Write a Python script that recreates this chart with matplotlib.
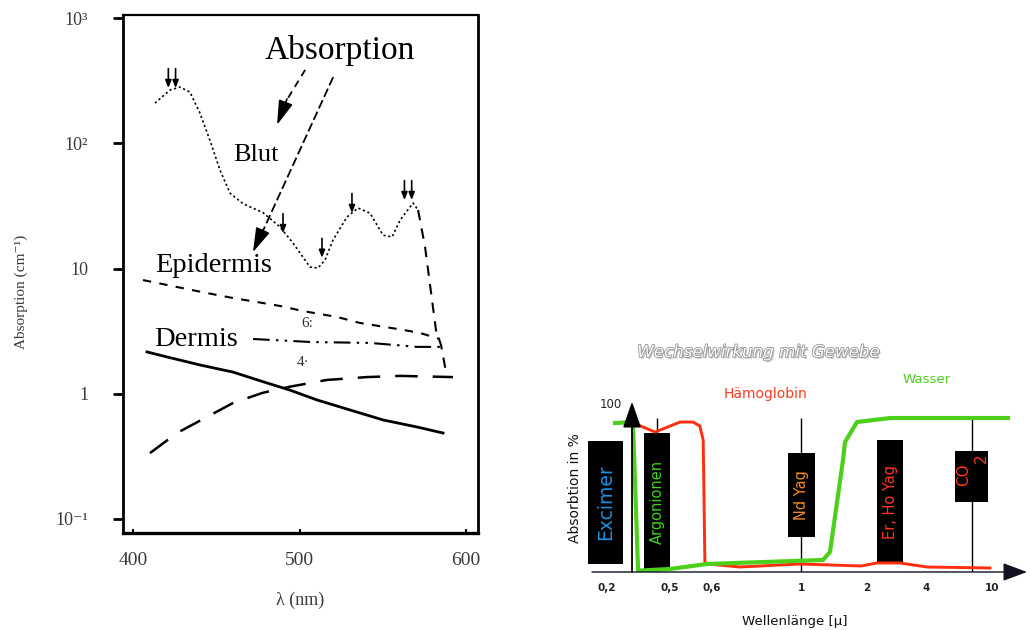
import numpy as np
import matplotlib
matplotlib.use("Agg")
import matplotlib.pyplot as plt
from matplotlib import patheffects as pe
from matplotlib.transforms import offset_copy, blended_transform_factory

# ---------------- left panel: absorption spectra of skin layers ----------------
blut_nm = [413.2, 422.2, 428.2, 434.2, 440.2, 446.2, 452.3, 458.3, 466.1, 478.1,
           488.3, 496.1, 506.3, 511.1, 515.3, 520.1, 528.5, 535.1, 542.3, 550.2,
           555.6, 560.4, 568.2, 571.2]
blut_abs = [210, 267, 282, 257, 175, 106, 61, 40, 33, 28,
            21.5, 16, 10.3, 10.1, 11.7, 16.9, 25.8, 30.5, 27.8, 18.5,
            17.9, 24.4, 33.4, 29.4]
blut_tail_nm = [571.2, 575.4, 579.6, 582.0, 585.0, 588.0]
blut_tail_abs = [29.4, 14.9, 5.6, 3.2, 2.45, 1.49]

epidermis_nm = [406.0, 432.4, 444.4, 460.1, 474.5, 488.3, 502.1, 522.5, 536.3,
                562.2, 572.4, 584.4]
epidermis_abs = [8.1, 6.87, 6.38, 5.82, 5.41, 5.03, 4.58, 4.11, 3.68, 3.24, 3.06, 2.74]

curve6_nm = [472.1, 507.5, 542.3, 570.6, 584.4]
curve6_abs = [2.74, 2.59, 2.55, 2.37, 2.37]

curve4_nm = [410.2, 426.4, 444.4, 460.1, 478.1, 494.3, 516.5, 540.5, 560.4, 592.2]
curve4_abs = [0.336, 0.486, 0.653, 0.845, 1.02, 1.14, 1.29, 1.36, 1.39, 1.36]

dermis_nm = [408.4, 420.4, 440.2, 460.1, 480.5, 494.3, 510.5, 530.3, 550.2, 570.6, 586.2]
dermis_abs = [2.16, 1.97, 1.70, 1.49, 1.22, 1.07, 0.893, 0.743, 0.618, 0.543, 0.486]

peak_single_nm = [490.1, 513.5, 531.5]
peak_single_abs = [19.2, 12.2, 27.8]
peak_double_nm = [423.4, 565.2]
peak_double_abs = [277, 35.3]

left_xticks = [400, 500, 600]
left_yticks = [0.1, 1, 10, 100, 1000]
left_ytick_labels = ["10\u207b\u00b9", "1", "10", "10\u00b2", "10\u00b3"]

# ---------------- right panel: laser / tissue interaction ----------------
tick_um = [0.2, 0.5, 0.6, 1, 2, 4, 10]
tick_labels = ["0,2", "0,5", "0,6", "1", "2", "4", "10"]

wasser_um = [0.238, 0.319, 0.324, 0.348, 0.5, 0.588, 1.333, 1.439, 1.636, 1.667,
             1.848, 2.78, 12.35]
wasser_abs = [89.2, 89.8, 88.0, 0.8, 1.8, 4.8, 7.2, 12.0, 67.0, 77.8, 89.8, 92.2, 92.2]

haemo_um = [0.338, 0.429, 0.524, 0.555, 0.571, 0.579, 0.583, 0.588, 0.726, 0.996,
            1.909, 2.339, 3.119, 4.09, 9.82]
haemo_abs = [88.6, 83.8, 89.8, 89.8, 87.4, 79.0, 6.0, 4.8, 3.0, 4.8,
             3.6, 5.4, 5.4, 3.0, 2.4]

laser_names = ["Excimer", "Argonionen", "Nd Yag", "Er, Ho Yag", "CO"]
laser_um = [0.198, 0.44, 1.0, 2.78, 8.18]
laser_low = [4.8, 1.2, 21.0, 4.8, 42.0]
laser_high = [78.4, 83.2, 71.3, 79.0, 72.5]
laser_has_line = [False, True, True, False, True]
line_top = 92.2

# ---------------- figure ----------------
fig = plt.figure(figsize=(10.3, 6.3), dpi=100)
fig.patch.set_facecolor("white")

serif = ["Liberation Serif", "DejaVu Serif"]

axL = fig.add_axes([123 / 1030, 97 / 630, 355 / 1030, 518 / 630])
axL.set_yscale("log")
axL.set_xlim(394.0, 607.2)
axL.set_ylim(10 ** -1.112, 10 ** 3.026)

axL.plot(blut_nm, blut_abs, color="black", lw=1.2, ls=(0, (1.3, 1.6)))
axL.plot(blut_tail_nm, blut_tail_abs, color="black", lw=1.5, ls=(0, (5, 4)))
axL.plot(epidermis_nm, epidermis_abs, color="black", lw=1.5, ls=(0, (4, 4)))
axL.plot(curve6_nm, curve6_abs, color="black", lw=1.5, ls=(0, (8, 3, 1.2, 3, 1.2, 3)))
axL.plot(curve4_nm, curve4_abs, color="black", lw=1.8, ls=(0, (9, 6)))
axL.plot(dermis_nm, dermis_abs, color="black", lw=2.0)

arrow_small = dict(arrowstyle="-|>,head_length=0.45,head_width=0.18", color="black",
                   lw=1.2, shrinkA=0, shrinkB=0)
for x, y in zip(peak_single_nm, peak_single_abs):
    axL.annotate("", xy=(x, y), xytext=(0, 14), textcoords="offset points",
                 arrowprops=arrow_small)
for x, y in zip(peak_double_nm, peak_double_abs):
    for dx in (-2.6, 2.6):
        tr = offset_copy(axL.transData, fig=fig, x=dx, y=0, units="points")
        axL.annotate("", xy=(x, y), xycoords=tr, xytext=(0, 14),
                     textcoords="offset points", arrowprops=arrow_small)

# "Absorption" callout with its two pointers
axL.text(0.611, 0.932, "Absorption", transform=axL.transAxes, ha="center", va="center",
         fontsize=24, family=serif)
axL.plot([0.513, 0.458], [0.894, 0.832], transform=axL.transAxes, color="black",
         lw=1.3, ls=(0, (4, 3)))
axL.annotate("", xy=(0.434, 0.788), xycoords="axes fraction", xytext=(0.462, 0.838),
             textcoords="axes fraction",
             arrowprops=dict(arrowstyle="-|>,head_length=1.5,head_width=0.45",
                             color="black", lw=1.2, shrinkA=0, shrinkB=0))
axL.plot([0.592, 0.388], [0.880, 0.574], transform=axL.transAxes, color="black",
         lw=1.3, ls=(0, (5, 2)))
axL.annotate("", xy=(0.366, 0.542), xycoords="axes fraction", xytext=(0.394, 0.585),
             textcoords="axes fraction",
             arrowprops=dict(arrowstyle="-|>,head_length=1.5,head_width=0.45",
                             color="black", lw=1.2, shrinkA=0, shrinkB=0))

axL.text(0.375, 0.730, "Blut", transform=axL.transAxes, ha="center", va="center",
         fontsize=19, family=serif)
axL.text(0.256, 0.517, "Epidermis", transform=axL.transAxes, ha="center", va="center",
         fontsize=20.5, family=serif)
axL.text(0.206, 0.374, "Dermis", transform=axL.transAxes, ha="center", va="center",
         fontsize=20.5, family=serif)
axL.text(0.518, 0.405, "6:", transform=axL.transAxes, ha="center", va="center",
         fontsize=11, family=serif, color="#333333")
axL.text(0.507, 0.330, "4\u00b7", transform=axL.transAxes, ha="center", va="center",
         fontsize=11, family=serif, color="#333333")

for side, lw in (("left", 2.0), ("bottom", 2.4), ("right", 2.0), ("top", 1.6)):
    axL.spines[side].set_linewidth(lw)
axL.set_xticks(left_xticks)
axL.set_xticklabels([str(v) for v in left_xticks])
axL.set_yticks(left_yticks)
axL.set_yticklabels(left_ytick_labels)
axL.yaxis.set_minor_locator(matplotlib.ticker.NullLocator())
axL.tick_params(axis="y", direction="out", length=7, width=2, pad=18, labelsize=13,
                labelcolor="#3a3a3a")
axL.tick_params(axis="x", direction="in", length=3, width=1.5, pad=14, labelsize=14,
                labelcolor="#3a3a3a")
for lab in axL.get_xticklabels() + axL.get_yticklabels():
    lab.set_family(serif)
axL.set_xlabel("\u03bb (nm)", family=serif, fontsize=13, color="#3a3a3a", labelpad=16)
axL.set_ylabel("Absorption (cm\u207b\u00b9)", family=serif, fontsize=11, color="#3a3a3a")
axL.yaxis.set_label_coords(-0.268, 0.465)

# ---------------- right panel ----------------
# schematic wavelength axis: piecewise-linear between the labelled wavelengths
scale_um = [0.1, 0.2, 0.5, 0.6, 1, 2, 4, 10, 20]
scale_pos = [-0.1195, 0.0345, 0.1793, 0.2759, 0.4805, 0.6322, 0.7678, 0.9195, 1.0759]


def fwd(v):
    return np.interp(np.asarray(v, dtype=float), scale_um, scale_pos)


def inv(u):
    return np.interp(np.asarray(u, dtype=float), scale_pos, scale_um)


axR = fig.add_axes([592 / 1030, 58 / 630, 435 / 1030, 172 / 630])
axR.set_xscale("function", functions=(fwd, inv))
axR.set_xlim(float(inv(0.0)), float(inv(1.0)))
axR.set_ylim(0, 103)
axR.patch.set_alpha(0)
for s in axR.spines.values():
    s.set_visible(False)
axR.set_yticks([])
axR.set_xticks(tick_um)
axR.set_xticklabels(tick_labels)
axR.tick_params(axis="x", length=0, pad=8, labelsize=7.5)
for lab in axR.get_xticklabels():
    lab.set_fontweight("bold")
    lab.set_color("#222222")

# stems and laser boxes
stem_x = [w for w, s in zip(laser_um, laser_has_line) if s]
axR.vlines(stem_x, 0, line_top, color="black", lw=1.0, zorder=1)
box_px = [35, 26, 27, 26, 33]
left_edges, widths = [], []
for w, px in zip(laser_um, box_px):
    half = px / 435 / 2
    lo, hi = inv(fwd(w) - half), inv(fwd(w) + half)
    left_edges.append(float(lo))
    widths.append(float(hi - lo))
heights = [h - l for h, l in zip(laser_high, laser_low)]
bars = axR.bar(left_edges, heights, width=widths, bottom=laser_low, align="edge",
               color="black", zorder=2)
for b in bars:
    b.set_clip_on(False)

laser_colors = ["#1b8fe0", "#3fd21a", "#f28a1e", "#ff361a", "#ff361a"]
laser_sizes = [13.5, 10.5, 10.5, 10.5, 11]
for i, (name, w) in enumerate(zip(laser_names, laser_um)):
    yc = (laser_low[i] + laser_high[i]) / 2
    if name == "CO":
        tr = offset_copy(axR.transData, fig=fig, x=-6, y=0, units="points")
        axR.text(w, yc + 1, name, transform=tr, rotation=90, ha="center", va="center",
                 color=laser_colors[i], fontsize=laser_sizes[i], zorder=3)
        tr2 = offset_copy(axR.transData, fig=fig, x=7, y=0, units="points")
        axR.text(w, yc + 11, "2", transform=tr2, rotation=90, ha="center", va="center",
                 color=laser_colors[i], fontsize=laser_sizes[i], zorder=3)
    else:
        axR.text(w, yc, name, rotation=90, ha="center", va="center",
                 color=laser_colors[i], fontsize=laser_sizes[i], zorder=3,
                 clip_on=False)

axR.plot(haemo_um, haemo_abs, color="#ff2e0e", lw=2.1, zorder=4)
axR.plot(wasser_um, wasser_abs, color="#4dd01c", lw=3.0, zorder=5)

# axis arrows
axR.annotate("", xy=(1.0, 0), xycoords="axes fraction", xytext=(0.0, 0),
             textcoords="axes fraction",
             arrowprops=dict(arrowstyle="-|>,head_length=0.75,head_width=0.28",
                             color="#111122", lw=1.0, mutation_scale=20,
                             shrinkA=0, shrinkB=0), zorder=6)
ybl = blended_transform_factory(axR.transAxes, axR.transData)
axR.annotate("", xy=(0.092, 102), xycoords=ybl, xytext=(0.092, 0), textcoords=ybl,
             arrowprops=dict(arrowstyle="-|>,head_length=0.8,head_width=0.28",
                             color="black", lw=1.3, mutation_scale=20,
                             shrinkA=0, shrinkB=0), zorder=6)

axR.text(0.0437, 0.971, "100", transform=axR.transAxes, ha="center", va="center",
         fontsize=8.5, color="#222222")
axR.text(-0.039, 0.488, "Absorbtion in %", transform=axR.transAxes, rotation=90,
         ha="center", va="center", fontsize=10, color="#111111")
axR.text(0.467, -0.285, "Wellenl\u00e4nge [\u00b5]", transform=axR.transAxes,
         ha="center", va="center", fontsize=9.6, color="#111111")
axR.text(0.40, 1.035, "H\u00e4moglobin", transform=axR.transAxes, ha="center",
         va="center", fontsize=10, color="#ff3a1e")
axR.text(0.770, 1.122, "Wasser", transform=axR.transAxes, ha="center", va="center",
         fontsize=9.6, color="#4dd01c")
axR.text(0.382, 1.279, "Wechselwirkung mit Gewebe", transform=axR.transAxes,
         ha="center", va="center", fontsize=12, style="italic", color="white",
         path_effects=[pe.SimplePatchShadow(offset=(1.2, -1.2), shadow_rgbFace="#bdbdbd",
                                            alpha=0.9),
                       pe.Stroke(linewidth=1.1, foreground="#8a8a8a"),
                       pe.Normal()])

fig.savefig("out.png", dpi=100, facecolor="white")
